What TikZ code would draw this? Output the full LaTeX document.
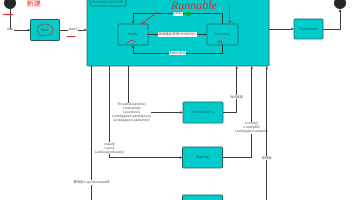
\documentclass[tikz,border=0pt]{standalone}
\usepackage{fontspec}
\setmainfont{Noto Sans CJK SC}
\newfontfamily\hand{Liberation Serif}
\usetikzlibrary{arrows.meta,calc}
\definecolor{teal1}{RGB}{0,204,204}
\definecolor{edge1}{RGB}{30,95,95}
\definecolor{ln}{RGB}{60,60,60}
\definecolor{rd}{RGB}{225,40,40}
\begin{document}
\begin{tikzpicture}[x=1pt,y=-1pt,
  box/.style={draw=edge1, fill=teal1, line width=0.6pt, rounded corners=0.8pt,
    font=\fontsize{3.6}{4}\selectfont, text=edge1, inner sep=0},
  conn/.style={draw=ln, line width=0.8pt, -{Triangle[length=2.4pt,width=2.4pt]}},
  lab/.style={fill=white, inner sep=0.5pt, font=\fontsize{3.2}{3.9}\selectfont, text=ln, align=center},
  dot/.style={circle, fill=black!85, minimum size=12pt, inner sep=0},
  redmark/.style={draw=rd, line width=0.6pt, line cap=round},
]
\useasboundingbox (0,0) rectangle (356,200);
% big RUNNABLE box
\node[box, minimum width=182pt, minimum height=80pt] (run) at (178,26) {};
\node[box, minimum width=36pt, minimum height=14pt] (hdr) at (108,-1) {};
\node[font=\fontsize{3.2}{3.6}\selectfont, text=edge1, inner sep=0] (hdrt) at (108,2) {RUNNABLE(运行状态)};
\node[box, minimum width=30pt, minimum height=21pt] (ready) at (133,34.5) {Ready};
\node[box, minimum width=31pt, minimum height=21pt] (running) at (222.5,34.5) {Running};
% other states
\node[box, minimum width=29pt, minimum height=21pt] (new) at (45,30) {New};
\node[box, minimum width=29pt, minimum height=20pt] (term) at (308.5,29) {Terminated};
\node[box, minimum width=40pt, minimum height=21pt] (tw) at (203,112.5) {TimedWaiting};
\node[box, minimum width=40pt, minimum height=21pt] (wt) at (202.5,157.5) {Waiting};
\node[box, minimum width=40pt, minimum height=21pt] (bl) at (202.5,205.5) {};
\node[dot] (s) at (10,3) {};
\node[dot] (e) at (340,3) {};
% connectors
\draw[conn] (s.south) |- node[lab,pos=0.5]{new} (new.west);
\draw[conn] (new.east) -- node[lab]{start()} (new.east -| run.west);
\draw[conn] (ready.east) -- node[lab]{系统调度(获得CPU时间片)} (running.west);
\draw[conn] (running.north) -- ++(0,-10) -| node[lab,pos=0.25]{yield()} (ready.north);
\draw[conn] (running.south) -- ++(0,8) -| node[lab,pos=0.25]{时间片用完} (ready.south);
\draw[conn] (term.west -| run.east) -- (term.west);
\draw[conn] (term.east) -| (e.south);
\draw[conn] ($(run.south west)+(42,0)$) |- node[lab,pos=0.5,xshift=3pt]{Thread.sleep(time)\\o.wait(time)\\t.join(time)\\LockSupport.parkNanos()\\LockSupport.parkUntil()} (tw.west);
\draw[conn] ($(run.south west)+(23,0)$) |- node[lab,pos=0.45]{o.wait()\\t.join()\\LockSupport.park()} (wt.west);
\draw[conn] ($(run.south west)+(5,0)$) |- node[lab,pos=0.417]{等待进入synchronized块} (bl.west);
\draw[conn] (tw.east) -| node[lab,pos=0.667]{时间结束} ($(run.south west)+(150,0)$);
\draw[conn] (wt.east) -| node[lab,pos=0.664]{o.notify()\\o.notifyAll()\\LockSupport.unpark()} ($(run.south west)+(165,0)$);
\draw[conn] (bl.east) -| node[lab,pos=0.669]{获得锁} ($(run.south west)+(180,0)$);
% red hand annotations
\node[text=rd, font=\fontsize{7}{7}\selectfont] (ann1) at (34,4) {新建};
\draw[redmark] (3,14) -- (13,14);
\draw[redmark] (67,36) -- (75,36);
\draw[redmark] (45,30) ellipse (8pt and 6pt);
\node[text=rd, font=\hand\itshape\fontsize{12}{12}\selectfont, inner sep=0] (ann2) at (194,5.6) {Runnable};
\draw[redmark, -{Straight Barb[length=2pt]}] (158,12) .. controls (152,16) .. (142,24);
\draw[redmark, -{Straight Barb[length=2pt]}] (229,3) -- (230,23);
\draw[redmark] (126,44) -- (131,40) -- (136,42);
\draw[redmark] (217,43) -- (221,40) -- (222,45);
\fill[green!70!black, opacity=0.8] (188,14) circle (2.6pt);
\end{tikzpicture}
\end{document}
